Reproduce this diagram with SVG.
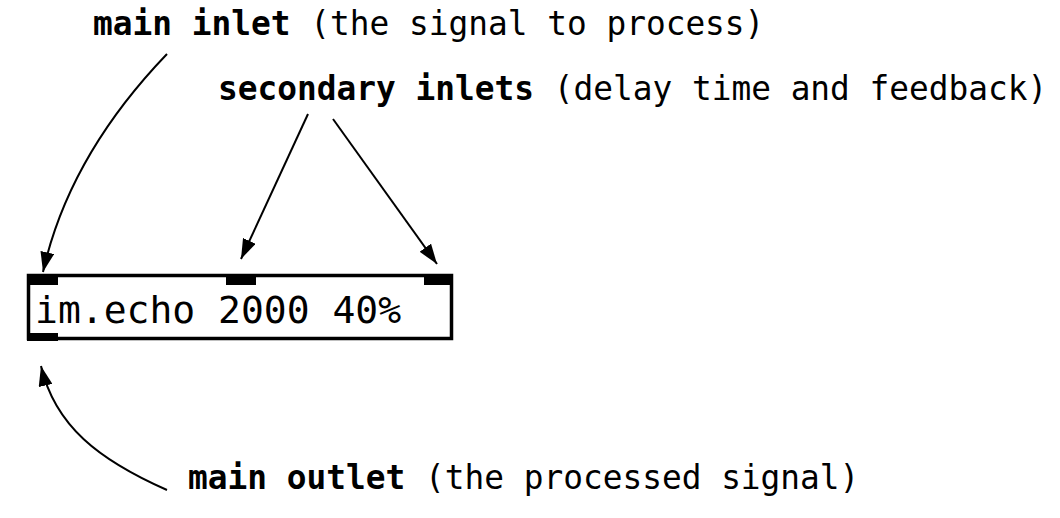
<svg xmlns="http://www.w3.org/2000/svg" width="1060" height="518" viewBox="0 0 1060 518">
<style>
.lbl{font-family:"DejaVu Sans Mono","Liberation Mono",monospace;font-size:32.8px;fill:#000}
.b{font-weight:bold}
.obj{font-family:"DejaVu Sans Mono","Liberation Mono",monospace;font-size:38px;fill:#000}
.conn{fill:none;stroke:#000;stroke-width:2}
.port{fill:#000}
</style>
<defs>
<marker id="ah" viewBox="0 0 20 14" refX="20" refY="7" markerWidth="20" markerHeight="14" markerUnits="userSpaceOnUse" orient="auto">
<path d="M0,0 L20,7 L0,14 Z" fill="#000"/>
</marker>
</defs>
<rect width="1060" height="518" fill="#fff"/>
<g id="label-main-inlet"><text class="lbl" x="93" y="35"><tspan class="b">main inlet</tspan> (the signal to process)</text></g>
<g id="label-secondary-inlets"><text class="lbl" x="218" y="100"><tspan class="b">secondary inlets</tspan> (delay time and feedback)</text></g>
<g id="label-main-outlet"><text class="lbl" x="188" y="489"><tspan class="b">main outlet</tspan> (the processed signal)</text></g>
<g id="node-im-echo">
<rect x="28.5" y="275.5" width="423" height="63" fill="#fff" stroke="#000" stroke-width="3.5"/>
<rect class="port" x="27" y="274" width="31" height="11"/>
<rect class="port" x="226" y="274" width="30" height="11"/>
<rect class="port" x="424" y="274" width="29" height="11"/>
<rect class="port" x="27" y="333" width="31" height="8"/>
<text class="obj" x="35" y="323">im.echo 2000 40%</text>
</g>
<g id="connectors">
<path class="conn" d="M167,54 C118,105 64,178 43,272" marker-end="url(#ah)"/>
<path class="conn" d="M308,114 L241,259" marker-end="url(#ah)"/>
<path class="conn" d="M333,119 L437,264" marker-end="url(#ah)"/>
<path class="conn" d="M167,490 C99,460 55,426 41,366" marker-end="url(#ah)"/>
</g>
</svg>
